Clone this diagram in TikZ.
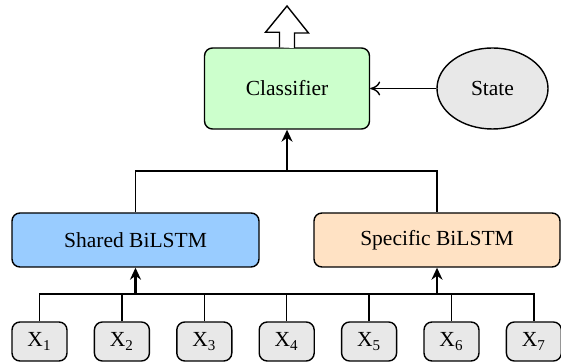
\documentclass[tikz,border=0pt]{standalone}
\usepackage{fontspec}
\setmainfont{Liberation Serif}
\usetikzlibrary{arrows.meta,shapes.geometric}
\tikzset{
    blk/.style={draw, rounded corners=4pt, line width=0.7pt, align=center, inner sep=0pt},
    xbox/.style={blk, fill=gray!18, minimum width=27.5pt, minimum height=19.5pt},
    link/.style={line width=0.7pt},
    uparr/.style={line width=1.2pt, -{Stealth[length=6pt,width=5.5pt]}},
}
\begin{document}
\begin{tikzpicture}[x=0.5pt, y=-0.5pt, font=\fontsize{10.75}{13}\selectfont]
    \useasboundingbox (0,0) rectangle (561,362);

    \node[blk, fill={rgb,255:red,204;green,255;blue,204}, minimum width=82.5pt, minimum height=40.5pt] (classifier) at (287,88.5) {Classifier};
    \node[draw, ellipse, fill=gray!18, line width=0.7pt, minimum width=55.5pt, minimum height=40.5pt, inner sep=0pt] (state) at (492.5,88.5) {State};
    \node[blk, fill={rgb,255:red,153;green,204;blue,255}, minimum width=123.5pt, minimum height=27pt] (shared) at (135.5,240) {Shared BiLSTM};
    \node[blk, fill={rgb,255:red,255;green,226;blue,196}, minimum width=123pt, minimum height=27pt] (specific) at (437,240) {Specific BiLSTM};

    \foreach \i in {1,...,7}
        \node[xbox] (x\i) at ({39.5+82.4*(\i-1)},341.5) {X\textsubscript{\i}};

    % output arrow
    \draw[line width=0.7pt, fill=white] (classifier.north) ++(-7.5,0) -- ++(0,-15) -- ++(-14,0) -- (287,6) -- ++(21.5,27) -- ++(-14,0) -- ++(0,15);

    \draw[link, -{To[length=5pt,width=7pt]}] (state) -- (classifier);

    \coordinate (upbus) at (287,171);
    \draw[link] (shared.north) |- (upbus) -| (specific.north);
    \draw[uparr] (upbus) -- (classifier.south);

    \coordinate (bus) at (287,294);
    \draw[link] (x1.north) |- (bus) -| (x7.north);
    \foreach \i in {2,...,6}
        \draw[link] (x\i.north) -- (x\i.north |- bus);
    \draw[uparr] (shared.south |- bus) -- (shared.south);
    \draw[uparr] (specific.south |- bus) -- (specific.south);
\end{tikzpicture}
\end{document}
